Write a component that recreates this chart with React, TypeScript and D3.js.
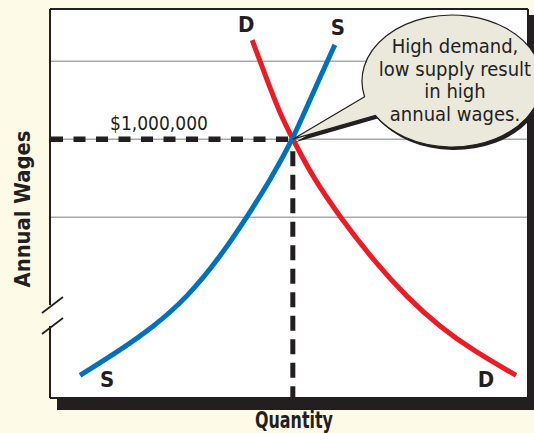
import React from 'react';
import * as d3 from 'd3';

const W = 534;
const H = 433;

// Data (quantity in % of axis width, wages in gridline units; gridlines at 3,4,5; 4 = $1,000,000)
const supplyQ = [6.3, 14.6, 21.6, 28.7, 35.6, 41.2, 46.0, 50.8, 54.0, 56.9, 59.6];
const supplyW = [0.97, 1.29, 1.59, 1.97, 2.49, 3.0, 3.47, 4.0, 4.45, 4.85, 5.21];
const demandQ = [42.3, 45.4, 48.1, 50.8, 55.0, 60.7, 67.6, 74.7, 81.6, 88.5, 97.5];
const demandW = [5.27, 4.76, 4.33, 4.0, 3.51, 3.0, 2.45, 1.97, 1.59, 1.29, 0.97];
const gridWages = [3, 4, 5];
const eqQ = 50.8;
const eqW = 4;
const priceLabel = '$1,000,000';
const calloutLines = ['High demand,', 'low supply result', 'in high', 'annual wages.'];
const yTitle = 'Annual Wages';
const xTitle = 'Quantity';

const COND = "'DejaVu Sans Condensed', 'DejaVu Sans', sans-serif";

export default function App() {
  const left = 50, right = 528, top = 9, bottom = 398;
  const x = d3.scaleLinear().domain([0, 100]).range([left, right]);
  const y = d3.scaleLinear().domain([0.68, 5.67]).range([bottom, top]);

  const line = d3
    .line<[number, number]>()
    .x((d) => x(d[0]))
    .y((d) => y(d[1]))
    .curve(d3.curveBasis);

  const supply = supplyQ.map((q, i) => [q, supplyW[i]] as [number, number]);
  const demand = demandQ.map((q, i) => [q, demandW[i]] as [number, number]);

  const ex = x(eqQ);
  const ey = y(eqW);

  // callout ellipse
  const cx = 452, cy = 81, rx = 90, ry = 66;
  const tA = Math.PI - 0.24;
  const tB = Math.PI - 0.55;
  const A = [cx + rx * Math.cos(tA), cy + ry * Math.sin(tA)];
  const B = [cx + rx * Math.cos(tB), cy + ry * Math.sin(tB)];
  const bubble = `M${A[0]},${A[1]} L${ex},${ey} L${B[0]},${B[1]} A${rx},${ry} 0 1 0 ${A[0]},${A[1]} Z`;

  const sStart = supply[0];
  const sEnd = supply[supply.length - 1];
  const dStart = demand[0];
  const dEnd = demand[demand.length - 1];

  const breakY1 = 305;
  const breakY2 = 326;

  return (
    <svg
      width={W}
      height={H}
      style={{ position: 'absolute', left: 0, top: 0, display: 'block' }}
    >
      <rect x={0} y={0} width={W} height={H} fill="#fefae8" />
      {/* frame shadow */}
      <rect x={left + 7} y={top + 6} width={right - left} height={bottom - top + 6} fill="#231f20" />
      <rect x={left} y={top} width={right - left} height={bottom - top} fill="#ffffff" />
      {/* frame lines */}
      <line x1={left} x2={right} y1={top} y2={top} stroke="#231f20" strokeWidth={2} />
      <line x1={left} x2={right} y1={bottom} y2={bottom} stroke="#231f20" strokeWidth={2} />
      <line x1={right} x2={right} y1={top} y2={bottom} stroke="#231f20" strokeWidth={2} />
      <line x1={left} x2={left} y1={top} y2={breakY1} stroke="#231f20" strokeWidth={2} />
      <line x1={left} x2={left} y1={breakY2} y2={bottom} stroke="#231f20" strokeWidth={2} />
      <line x1={left - 8} y1={breakY1 + 8} x2={left + 13} y2={breakY1 - 8} stroke="#231f20" strokeWidth={1.8} />
      <line x1={left - 8} y1={breakY2 + 8} x2={left + 13} y2={breakY2 - 8} stroke="#231f20" strokeWidth={1.8} />

      {/* gridlines */}
      {gridWages.map((g) => (
        <line key={g} x1={left + 1} x2={right - 1} y1={y(g)} y2={y(g)} stroke="#a7a9ac" strokeWidth={1.5} />
      ))}

      {/* equilibrium dashed lines */}
      <line x1={left + 1} x2={ex} y1={ey} y2={ey} stroke="#231f20" strokeWidth={5.5} strokeDasharray="12 10.5" />
      <line x1={ex} x2={ex} y1={ey + 12} y2={bottom} stroke="#231f20" strokeWidth={5} strokeDasharray="15 8.5" />

      {/* curves */}
      <path d={line(demand) || ''} fill="none" stroke="#ed1c24" strokeWidth={5} />
      <path d={line(supply) || ''} fill="none" stroke="#0072bc" strokeWidth={5} />

      {/* curve labels */}
      <g fontFamily={COND} fontWeight="bold" fontSize={22} fill="#231f20" textAnchor="middle">
        <text x={x(dStart[0]) - 6} y={y(dStart[1]) - 8}>D</text>
        <text x={x(sEnd[0]) + 3} y={y(sEnd[1]) - 10}>S</text>
        <text x={x(sStart[0]) + 27} y={y(sStart[1]) + 12}>S</text>
        <text x={x(dEnd[0]) - 30} y={y(dEnd[1]) + 12}>D</text>
      </g>

      {/* price label */}
      <text x={159} y={130} fontFamily={COND} fontSize={19} fill="#231f20" textAnchor="middle">
        {priceLabel}
      </text>

      {/* callout */}
      <path d={bubble} transform="translate(2.5,3)" fill="#231f20" />
      <path d={bubble} fill="#ebe8dc" stroke="#231f20" strokeWidth={1.2} strokeLinejoin="miter" />
      <g fontFamily={COND} fontSize={20} fill="#231f20" textAnchor="middle">
        {calloutLines.map((t, i) => (
          <text key={i} x={455} y={53 + i * 22.5}>
            {t}
          </text>
        ))}
      </g>

      {/* axis titles */}
      <text
        transform={`translate(30,209) rotate(-90)`}
        fontFamily={COND}
        fontWeight="bold"
        fontSize={22}
        fill="#231f20"
        textAnchor="middle"
        textLength={157}
        lengthAdjust="spacingAndGlyphs"
      >
        {yTitle}
      </text>
      <text
        x={294}
        y={428}
        fontFamily={COND}
        fontWeight="bold"
        fontSize={23}
        fill="#231f20"
        textAnchor="middle"
        textLength={78}
        lengthAdjust="spacingAndGlyphs"
      >
        {xTitle}
      </text>
    </svg>
  );
}
